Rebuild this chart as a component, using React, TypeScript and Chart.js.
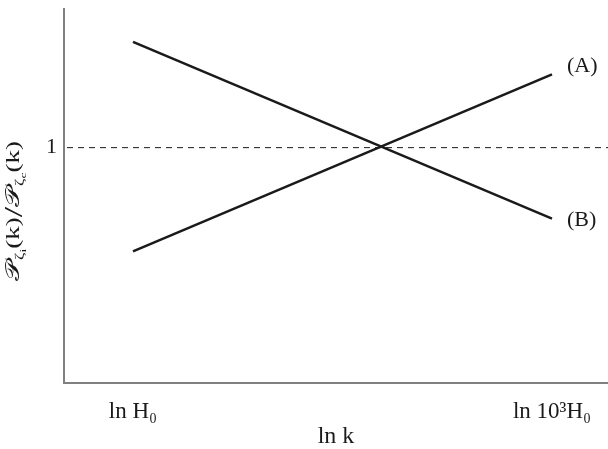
import React, { useEffect, useRef } from "react";
import { Chart, registerables } from "chart.js";

Chart.register(...registerables);

// ---- data ----
const LINE_X = [0, 3];
const SERIES_A = [0.559, 1.311];
const SERIES_B = [1.449, 0.698];
const SERIES_LABELS = ["(A)", "(B)"];
const X_TICKS = [0, 3];
const X_TICK_LABELS = ["ln H₀", "ln 10³H₀"];
const X_TITLE = "ln k";
const Y_TICKS = [1];
const Y_TICK_LABELS = ["1"];
const REF_LEVEL = 1;
// y title pieces: [text, fontSize, baseline shift]
const Y_TITLE_PARTS: [string, number, number][] = [
  ["𝒫", 19, 0],
  ["ζ", 12, 4],
  ["i", 9, 7],
  ["(k)", 18, 0],
  ["/", 25, 3],
  ["𝒫", 19, 0],
  ["ζ", 12, 4],
  ["c", 9, 7],
  ["(k)", 18, 0],
];

const FONT = "'Liberation Serif', 'Times New Roman', serif";
const INK = "#1a1a1a";
const AXIS = "#808080";

const overlay = {
  id: "overlay",
  beforeDatasetsDraw(chart: any) {
    const { ctx, chartArea, scales } = chart;
    const y = scales.y.getPixelForValue(REF_LEVEL);
    ctx.save();
    ctx.strokeStyle = INK;
    ctx.lineWidth = 1;
    ctx.setLineDash([6, 5]);
    ctx.beginPath();
    ctx.moveTo(chartArea.left + 3, y);
    ctx.lineTo(chartArea.right, y);
    ctx.stroke();
    ctx.restore();
  },
  afterDraw(chart: any) {
    const { ctx } = chart;
    ctx.save();
    // series labels
    ctx.fillStyle = INK;
    ctx.font = `22px ${FONT}`;
    ctx.textAlign = "left";
    ctx.textBaseline = "middle";
    const shifts = [-8, 2];
    SERIES_LABELS.forEach((lbl, i) => {
      const meta = chart.getDatasetMeta(i);
      const pt = meta.data[meta.data.length - 1];
      ctx.fillText(lbl, pt.x + 15, pt.y + shifts[i]);
    });
    // y title (stretched along its length, like the reference)
    ctx.translate(19, 211);
    ctx.rotate(-Math.PI / 2);
    ctx.scale(1.5, 1);
    ctx.textBaseline = "alphabetic";
    let total = 0;
    const widths = Y_TITLE_PARTS.map(([t, s]) => {
      ctx.font = `${s}px ${FONT}`;
      const w = ctx.measureText(t).width;
      total += w;
      return w;
    });
    let x = -total / 2;
    Y_TITLE_PARTS.forEach(([t, s, dy], i) => {
      ctx.font = `${s}px ${FONT}`;
      ctx.fillText(t, x, dy);
      x += widths[i];
    });
    ctx.restore();
  },
};

export default function App() {
  const ref = useRef<HTMLCanvasElement | null>(null);
  useEffect(() => {
    document.body.style.margin = "0";
    if (!ref.current) return;
    const chart = new Chart(ref.current, {
      type: "line",
      data: {
        datasets: [
          {
            label: SERIES_LABELS[0],
            data: LINE_X.map((x, i) => ({ x, y: SERIES_A[i] })),
            borderColor: INK,
            borderWidth: 2.5,
            pointRadius: 0,
          },
          {
            label: SERIES_LABELS[1],
            data: LINE_X.map((x, i) => ({ x, y: SERIES_B[i] })),
            borderColor: INK,
            borderWidth: 2.5,
            pointRadius: 0,
          },
        ],
      },
      options: {
        animation: false,
        responsive: false,
        layout: { padding: { top: 9, right: 0, left: 0, bottom: 0 } },
        plugins: { legend: { display: false }, tooltip: { enabled: false } },
        scales: {
          x: {
            type: "linear",
            min: -0.494,
            max: 3.401,
            afterFit: (s: any) => {
              s.height = 66;
              s.paddingLeft = 0;
              s.paddingRight = 0;
            },
            afterBuildTicks: (s: any) => {
              s.ticks = X_TICKS.map((v) => ({ value: v }));
            },
            ticks: {
              color: INK,
              font: { family: FONT, size: 23 },
              padding: 15,
              maxRotation: 0,
              autoSkip: false,
              callback: (v: any) => X_TICK_LABELS[X_TICKS.indexOf(Number(v))] ?? "",
            },
            grid: { display: false, drawTicks: false },
            border: { display: true, color: AXIS, width: 2 },
            title: {
              display: true,
              text: X_TITLE,
              color: INK,
              font: { family: FONT, size: 24, lineHeight: 1 },
              padding: { top: 0, bottom: 0 },
            },
          },
          y: {
            type: "linear",
            min: 0,
            max: 1.589,
            afterFit: (s: any) => {
              s.width = 64;
              s.paddingTop = 0;
              s.paddingBottom = 0;
            },
            afterBuildTicks: (s: any) => {
              s.ticks = Y_TICKS.map((v) => ({ value: v }));
            },
            ticks: {
              color: INK,
              font: { family: FONT, size: 22 },
              padding: 7,
              callback: (v: any) => Y_TICK_LABELS[Y_TICKS.indexOf(Number(v))] ?? "",
            },
            grid: { display: false, drawTicks: false },
            border: { display: true, color: AXIS, width: 2 },
          },
        },
      },
      plugins: [overlay],
    });
    return () => chart.destroy();
  }, []);
  return (
    <div style={{ position: "fixed", left: 0, top: 0, width: 608, height: 449, background: "#fff" }}>
      <canvas ref={ref} width={608} height={449} style={{ display: "block" }} />
    </div>
  );
}
